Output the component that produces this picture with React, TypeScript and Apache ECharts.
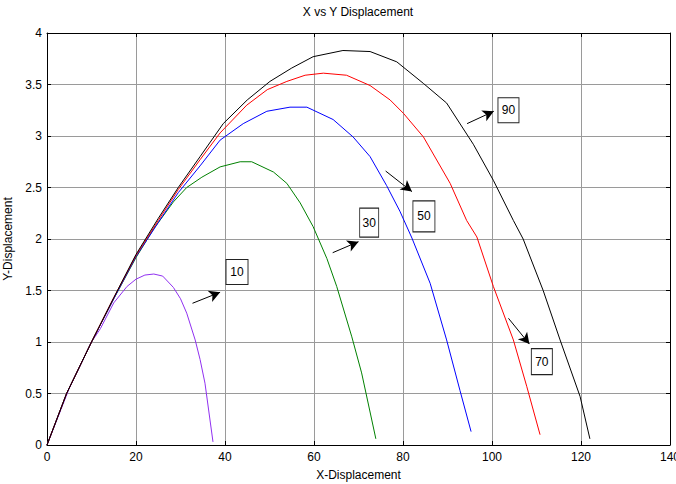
import React, { useEffect, useRef } from "react";
import * as echarts from "echarts";

const xTicks = [0, 20, 40, 60, 80, 100, 120, 140];
const yTicks = [0, 0.5, 1, 1.5, 2, 2.5, 3, 3.5, 4];

const angle10: number[][] = [[0,0],[5,0.55],[10,1.0],[12,1.13],[15,1.38],[18,1.54],[20,1.61],[22,1.65],[24,1.66],[26,1.64],[28.4,1.53],[30,1.42],[31.4,1.28],[33.3,1.02],[34.4,0.83],[35.5,0.6],[37.3,0.03]];
const angle30: number[][] = [[0,0],[4.4,0.5],[10,1.0],[15,1.42],[20,1.82],[24,2.1],[28.4,2.36],[31.4,2.5],[34.8,2.6],[38.9,2.7],[43.4,2.75],[46,2.75],[50.9,2.65],[53.9,2.54],[56.9,2.35],[59.8,2.12],[62.9,1.81],[65.1,1.54],[68.5,1.05],[70.7,0.7],[73.9,0.06]];
const angle50: number[][] = [[0,0],[4.4,0.5],[10,1.0],[15,1.42],[20,1.83],[25,2.16],[29.5,2.45],[34.4,2.71],[38.9,2.96],[44.1,3.12],[49.4,3.24],[54.6,3.28],[58.4,3.28],[64.3,3.16],[68.8,2.99],[72.6,2.8],[76.3,2.52],[79.3,2.27],[82,2.01],[86.1,1.57],[89.8,1.02],[92.8,0.53],[95.3,0.13]];
const angle70: number[][] = [[0,0],[4.4,0.5],[10,1.0],[15,1.43],[20,1.84],[25,2.18],[29.5,2.48],[34.4,2.77],[38.9,3.03],[44.9,3.3],[49.5,3.45],[53.9,3.53],[58,3.59],[62.1,3.61],[67.3,3.59],[72.6,3.49],[77.1,3.35],[80.1,3.22],[84.6,2.99],[90.6,2.54],[94.3,2.18],[96.6,2.02],[100.3,1.54],[104.8,1.02],[107.8,0.57],[110.8,0.1]];
const angle90: number[][] = [[0,0],[4.4,0.5],[10,1.0],[15,1.43],[20,1.85],[25,2.2],[29.5,2.5],[34.4,2.8],[39.6,3.12],[45,3.35],[50.1,3.53],[55,3.66],[59.8,3.77],[66.5,3.83],[72.6,3.82],[78.6,3.72],[84.6,3.51],[89.8,3.32],[95.8,2.92],[100.3,2.57],[104.8,2.18],[107,2.0],[111.5,1.5],[115.3,1.02],[119.8,0.47],[122,0.06]];

const labelTexts = ["10", "30", "50", "70", "90"];
const labelCenters: number[][] = [[42.7,1.68],[72.4,2.16],[84.7,2.22],[111.2,0.81],[103.7,3.25]];
const labelSizes: number[][] = [[22,25],[19,29],[22,31],[21,26],[21,25]];
const arrowStarts: number[][] = [[32.7,1.376],[64.2,1.867],[76.1,2.66],[103.7,1.23],[94.4,3.12]];
const arrowEnds: number[][] = [[38.9,1.483],[70.0,1.974],[82.0,2.46],[108.4,0.98],[100.4,3.24]];

const FONT = "'Liberation Sans Narrow', 'Liberation Sans', Arial, sans-serif";

export default function App() {
  const ref = useRef<HTMLDivElement>(null);
  useEffect(() => {
    if (!ref.current) return;
    const chart = echarts.init(ref.current, null, { renderer: "svg" });
    const gridColor = "#9a9a9a";
    const baseAxis = {
      type: "value" as const,
      axisLine: { show: true, onZero: false, lineStyle: { color: "#000", width: 1 } },
      axisTick: { show: true, inside: true, length: 4, lineStyle: { color: "#000" } },
    };
    const mk = (name: string, data: number[][], color: string) => ({
      type: "line",
      name,
      data,
      showSymbol: false,
      symbol: "none",
      lineStyle: { color, width: 1 },
      itemStyle: { color },
      z: 3,
    });
    chart.setOption({
      animation: false,
      backgroundColor: "#fff",
      textStyle: { fontFamily: FONT },
      grid: { left: 47, right: 6, top: 33, bottom: 39, containLabel: false, outerBoundsMode: "none" },
      xAxis: [
        {
          ...baseAxis,
          position: "bottom",
          min: 0,
          max: 140,
          interval: 20,
          name: "X-Displacement",
          nameLocation: "middle",
          nameGap: 24,
          nameTextStyle: { color: "#000", fontSize: 12, fontFamily: FONT },
          axisLabel: { color: "#000", fontSize: 12, margin: 6, fontFamily: FONT, showMaxLabel: true, hideOverlap: false },
          splitLine: { show: true, lineStyle: { color: gridColor, width: 1 } },
        },
        {
          ...baseAxis,
          position: "top",
          min: 0,
          max: 140,
          interval: 20,
          axisLabel: { show: false },
          splitLine: { show: false },
        },
      ],
      yAxis: [
        {
          ...baseAxis,
          position: "left",
          min: 0,
          max: 4,
          interval: 0.5,
          name: "Y-Displacement",
          nameLocation: "middle",
          nameGap: 27,
          nameRotate: 90,
          nameTextStyle: { color: "#000", fontSize: 12, fontFamily: FONT },
          axisLabel: { color: "#000", fontSize: 12, margin: 5, fontFamily: FONT },
          splitLine: { show: true, lineStyle: { color: gridColor, width: 1 } },
        },
        {
          ...baseAxis,
          position: "right",
          min: 0,
          max: 4,
          interval: 0.5,
          axisLabel: { show: false },
          splitLine: { show: false },
        },
      ],
      graphic: [
        {
          type: "text",
          x: 358,
          y: 12,
          style: {
            text: "X vs Y Displacement",
            fill: "#000",
            font: `12px ${FONT}`,
            textAlign: "center",
            textVerticalAlign: "middle",
          },
        },
      ],
      series: [
        mk("10", angle10, "#9030f0"),
        mk("30", angle30, "#008000"),
        mk("50", angle50, "#0000ff"),
        mk("70", angle70, "#ff0000"),
        mk("90", angle90, "#000000"),
        {
          type: "line",
          name: "annotations",
          data: [],
          silent: true,
          z: 5,
          markLine: {
            silent: true,
            animation: false,
            symbol: ["none", "arrow"],
            symbolSize: [9, 11],
            label: { show: false },
            lineStyle: { color: "#000", width: 1, type: "solid" },
            data: arrowStarts.map((s, i) => [
              { coord: s },
              { coord: arrowEnds[i] },
            ]),
          },
          markPoint: {
            silent: true,
            animation: false,
            data: labelTexts.map((t, i) => ({
              coord: labelCenters[i],
              symbol: "rect",
              symbolSize: labelSizes[i],
              itemStyle: { color: "#fff", borderColor: "#222", borderWidth: 1 },
              label: {
                show: true,
                formatter: t,
                color: "#000",
                fontSize: 12,
                fontFamily: FONT,
                position: "inside",
              },
            })),
          },
        },
      ],
    });
    return () => chart.dispose();
  }, []);
  return (
    <div
      ref={ref}
      style={{ position: "fixed", left: 0, top: 0, width: 676, height: 484, background: "#fff" }}
    />
  );
}
